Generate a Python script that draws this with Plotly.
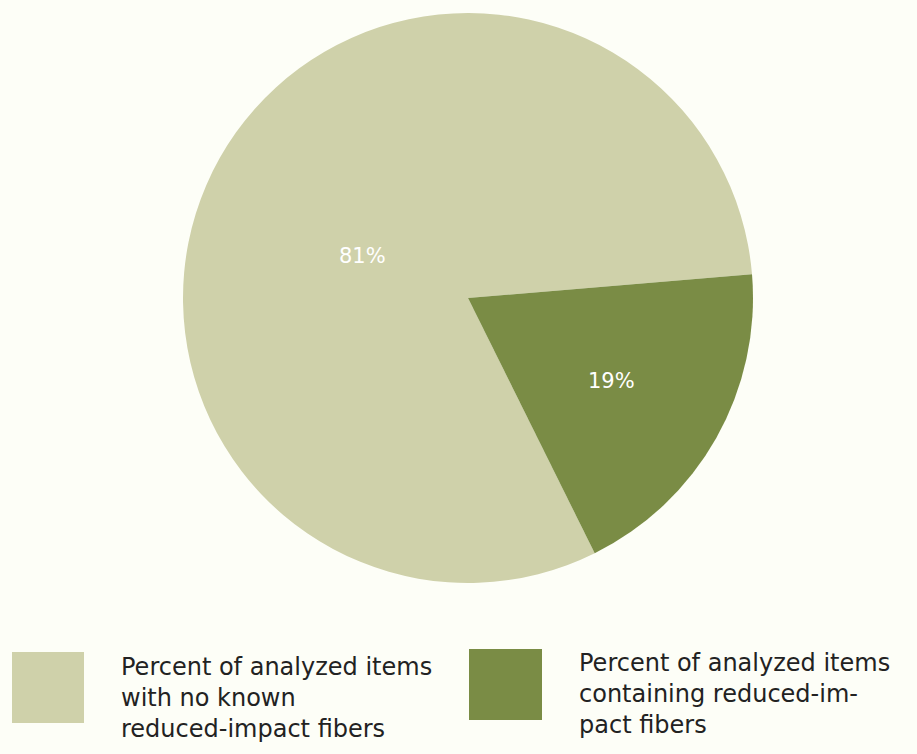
import plotly.graph_objects as go

# Share of analyzed items by reduced-impact fiber content
labels = [
    "Percent of analyzed items with no known reduced-impact fibers",
    "Percent of analyzed items containing reduced-impact fibers",
]
legend_lines = [
    ["Percent of analyzed items", "with no known", "reduced-impact fibers"],
    ["Percent of analyzed items", "containing reduced-im-", "pact fibers"],
]
values = [81, 19]
colors = ["#CFD1AA", "#7A8C45"]

BG = "#FDFEF7"
W, H = 917, 754
FONT = "DejaVu Sans"

fig = go.Figure(
    go.Pie(
        labels=labels,
        values=values,
        sort=False,
        direction="clockwise",
        rotation=153.6,
        marker=dict(colors=colors, line=dict(width=0)),
        textinfo="none",
        hoverinfo="label+percent",
        showlegend=False,
        domain=dict(x=[(468 - 285) / W, (468 + 285) / W],
                    y=[(754 - 583) / H, (754 - 13) / H]),
    )
)

shapes = []
annotations = []

# Value labels inside the slices
value_label_pos = [(362, 256), (611, 381)]
for v, (px, py) in zip(values, value_label_pos):
    annotations.append(dict(xref="paper", yref="paper", x=px / W, y=1 - py / H,
                            xanchor="center", yanchor="middle", showarrow=False,
                            text=f"{v}%",
                            font=dict(family=FONT, size=21, color="white")))

# Custom legend: large swatches with wrapped captions
swatches = [(12, 652, 84, 723), (469, 649, 542, 720)]
text_x = [119, 577]
text_mid_y = [698, 694]
for i, (x0, y0, x1, y1) in enumerate(swatches):
    shapes.append(dict(type="rect", xref="paper", yref="paper",
                       x0=x0 / W, x1=x1 / W, y0=1 - y0 / H, y1=1 - y1 / H,
                       fillcolor=colors[i], line=dict(width=0)))
    annotations.append(dict(xref="paper", yref="paper",
                            x=text_x[i] / W, y=1 - text_mid_y[i] / H,
                            xanchor="left", yanchor="middle", align="left",
                            showarrow=False,
                            text="<br>".join(legend_lines[i]),
                            font=dict(family=FONT, size=24, color="#222222")))

fig.update_layout(
    width=W, height=H,
    margin=dict(l=0, r=0, t=0, b=0),
    paper_bgcolor=BG, plot_bgcolor=BG,
    shapes=shapes, annotations=annotations,
)

fig.write_html("out.html")
